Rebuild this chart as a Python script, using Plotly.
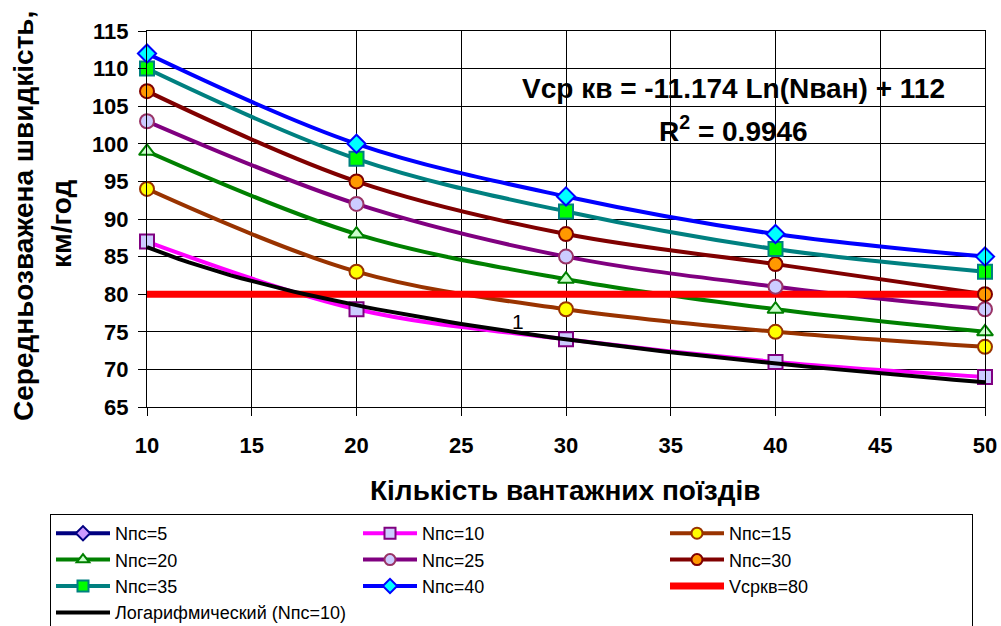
import numpy as np
import plotly.graph_objects as go

# Number of freight trains (x) and weighted average speed, km/h, per passenger-train count
trains = [10, 20, 30, 40, 50]
speed_npc5 = []
speed_npc10 = [87, 78, 74, 71, 69]
speed_npc15 = [94, 83, 78, 75, 73]
speed_npc20 = [99, 88, 82, 78, 75]
speed_npc25 = [103, 92, 85, 81, 78]
speed_npc30 = [107, 95, 88, 84, 80]
speed_npc35 = [110, 98, 91, 86, 83]
speed_npc40 = [112, 100, 93, 88, 85]

# Target speed level and logarithmic trend for Nпс=10
v_target = 80
trend_slope = -11.174
trend_intercept = 112
trend_r2 = 0.9946

x_ticks = [10, 15, 20, 25, 30, 35, 40, 45, 50]
y_ticks = [65, 70, 75, 80, 85, 90, 95, 100, 105, 110, 115]

FONT = "Arial, Liberation Sans, sans-serif"

series = [
    ("Nпс=5", speed_npc5, "#000080", "diamond", "#CC99FF", "#000080"),
    ("Nпс=10", speed_npc10, "#FF00FF", "square", "#CCCCFF", "#800080"),
    ("Nпс=15", speed_npc15, "#993300", "circle", "#FFFF00", "#993300"),
    ("Nпс=20", speed_npc20, "#008000", "triangle-up", "#CCFFCC", "#008000"),
    ("Nпс=25", speed_npc25, "#800080", "circle", "#CCCCFF", "#993366"),
    ("Nпс=30", speed_npc30, "#800000", "circle", "#FF9900", "#800000"),
    ("Nпс=35", speed_npc35, "#008080", "square", "#00FF00", "#008080"),
    ("Nпс=40", speed_npc40, "#0000FF", "diamond", "#00FFFF", "#0000FF"),
]

fig = go.Figure()

# Legend entries (one per series, in legend order)
for name, vals, lc, sym, fill, edge in series:
    fig.add_trace(go.Scatter(
        x=[None], y=[None], name=name, mode="lines+markers",
        line=dict(color=lc, width=4),
        marker=dict(symbol=sym, size=11, color=fill, line=dict(color=edge, width=2)),
    ))
fig.add_trace(go.Scatter(x=[None], y=[None], name="Vcpкв=80", mode="lines",
                         line=dict(color="#FF0000", width=7)))
fig.add_trace(go.Scatter(x=[None], y=[None], name="Логарифмический (Nпс=10)", mode="lines",
                         line=dict(color="#000000", width=4)))

# Smoothed series lines
for name, vals, lc, sym, fill, edge in series:
    if not vals:
        continue
    fig.add_trace(go.Scatter(
        x=trains, y=vals, mode="lines", line=dict(color=lc, width=4, shape="spline"),
        showlegend=False, hoverinfo="skip",
    ))

# Target speed line
fig.add_trace(go.Scatter(
    x=[trains[0], trains[-1]], y=[v_target, v_target], mode="lines",
    line=dict(color="#FF0000", width=7), showlegend=False, hoverinfo="skip",
))

# Series markers
for name, vals, lc, sym, fill, edge in series:
    if not vals:
        continue
    fig.add_trace(go.Scatter(
        x=trains, y=vals, mode="markers", cliponaxis=False,
        marker=dict(symbol=sym, size=14, color=fill, line=dict(color=edge, width=2)),
        showlegend=False, name=name,
    ))

# Logarithmic trend line
trend_x = np.linspace(trains[0], trains[-1], 81)
trend_y = trend_slope * np.log(trend_x) + trend_intercept
fig.add_trace(go.Scatter(
    x=trend_x, y=trend_y, mode="lines", line=dict(color="#000000", width=4),
    showlegend=False, hoverinfo="skip",
))

axis_common = dict(
    showgrid=True, gridcolor="#000000", gridwidth=1,
    showline=True, linecolor="#000000", linewidth=1, mirror=True,
    ticks="outside", ticklen=8, tickcolor="#000000", tickwidth=1,
    tickfont=dict(family=FONT, size=22, color="#000000", weight="bold"),
    zeroline=False,
)

fig.update_xaxes(range=[10, 50], tickvals=x_ticks, ticklabelstandoff=11, **axis_common)
fig.update_yaxes(range=[65, 115], tickvals=y_ticks, ticklabelstandoff=5, **axis_common)

fig.add_annotation(x=27.7, y=76.4, text="1", showarrow=False,
                   font=dict(family=FONT, size=21, color="#000000"))
fig.add_annotation(x=38, y=107.4, text=f"Vcp кв = {trend_slope} Ln(Nван) + {trend_intercept}",
                   showarrow=False,
                   font=dict(family=FONT, size=28, color="#000000", weight="bold"))
fig.add_annotation(x=38, y=102.0, text=f"R<sup>2</sup> = {trend_r2}", showarrow=False,
                   font=dict(family=FONT, size=28, color="#000000", weight="bold"))

# Axis titles
fig.add_annotation(xref="paper", yref="paper", x=(565 - 147) / 838, y=(407 - 490) / 376,
                   xanchor="center", yanchor="middle",
                   text="Кількість вантажних поїздів", showarrow=False,
                   font=dict(family=FONT, size=28, color="#000000", weight="bold"))
fig.add_annotation(xref="paper", yref="paper", x=(23 - 147) / 838, y=(407 - 216) / 376,
                   xanchor="center", yanchor="middle", textangle=-90,
                   text="Середньозважена швидкість,", showarrow=False,
                   font=dict(family=FONT, size=28, color="#000000", weight="bold"))
fig.add_annotation(xref="paper", yref="paper", x=(61 - 147) / 838, y=(407 - 224) / 376,
                   xanchor="center", yanchor="middle", textangle=-90,
                   text="км/год", showarrow=False,
                   font=dict(family=FONT, size=28, color="#000000", weight="bold"))

fig.update_layout(
    width=1001, height=626,
    margin=dict(l=147, r=16, t=31, b=219, autoexpand=False),
    paper_bgcolor="#FFFFFF", plot_bgcolor="#FFFFFF",
    showlegend=True,
    legend=dict(
        orientation="h", x=(50 - 147) / 838, xanchor="left",
        y=(407 - 514) / 376, yanchor="top",
        bordercolor="#000000", borderwidth=1, bgcolor="#FFFFFF",
        font=dict(family=FONT, size=18, color="#000000"),
        entrywidth=238, itemwidth=54, traceorder="normal",
    ),
    hovermode=False,
)

fig.write_html("out.html")
